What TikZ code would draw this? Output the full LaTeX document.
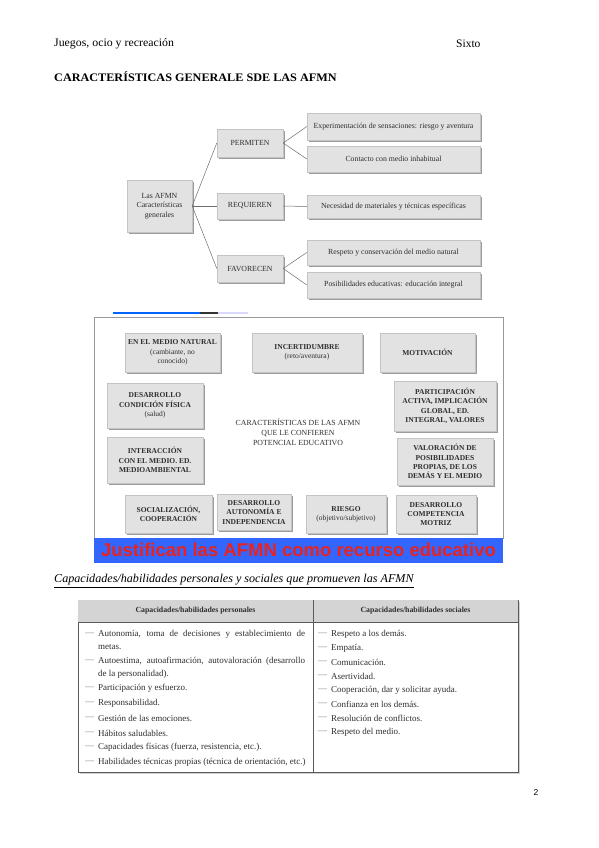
\documentclass[tikz,border=0pt]{standalone}
\usepackage{fontspec}
\setmainfont{Liberation Serif}
\newfontfamily\arialf{Liberation Sans}
\usetikzlibrary{shadows}
\definecolor{boxfill}{HTML}{E2E2E2}
\definecolor{boxline}{HTML}{C4C4C4}
\definecolor{shad}{HTML}{9C9C9C}
\definecolor{linec}{HTML}{6E6E6E}
\definecolor{banblue}{HTML}{3366FF}
\definecolor{banred}{HTML}{E8231E}
\definecolor{txt}{HTML}{2E2E2E}
\definecolor{hdrfill}{HTML}{D4D4D4}
\newcommand\jline[1]{\hbox to 207pt{\spaceskip=0.25em plus 1fil\relax #1}}
\begin{document}
\begin{tikzpicture}[x=1pt,y=-1pt,
  gbox/.style={draw=boxline, fill=boxfill, line width=0.4pt, inner sep=1pt, align=center, text=txt,
    drop shadow={shadow xshift=1.6pt, shadow yshift=-1.6pt, fill=shad, opacity=1}},
  onebox/.style={gbox, font=\fontsize{7.8}{9.5}\selectfont},
  twobox/.style={gbox, font=\bfseries\fontsize{7.5}{9.3}\selectfont},
  conn/.style={draw=linec, line width=0.5pt},
  item/.style={anchor=west, inner sep=0pt, text=txt, font=\fontsize{9}{10}\selectfont},
  dashi/.style={anchor=west, inner sep=0pt, text=gray, font=\fontsize{9}{10}\selectfont},
  hdr/.style={inner sep=0pt, text=txt, font=\bfseries\fontsize{7.8}{9}\selectfont},
  plain/.style={anchor=west, inner sep=0pt}
]
\fill[white] (0,0) rectangle (599,848);
\useasboundingbox (0,0) rectangle (599,848);

% header
\node[plain, font=\fontsize{11.5}{13}\selectfont] (h1) at (54,44) {\scalebox{1.03}[1]{Juegos, ocio y recreación}};
\node[plain, font=\fontsize{11.5}{13}\selectfont] (h2) at (456,44) {Sixto};
\node[plain, font=\bfseries\fontsize{11.5}{13}\selectfont] (title) at (54,77) {\scalebox{1.06}[1]{CARACTERÍSTICAS GENERALE SDE LAS AFMN}};

% diagram 1
\node[onebox, minimum width=65pt, minimum height=52pt] (las) at (159.5,206) {Las AFMN\\Características\\generales};
\node[onebox, minimum width=66pt, minimum height=28pt] (perm) at (250,143) {PERMITEN};
\node[onebox, minimum width=66pt, minimum height=26pt] (req) at (250,206) {REQUIEREN};
\node[onebox, minimum width=66pt, minimum height=27pt] (fav) at (250,268.5) {FAVORECEN};
\node[onebox, minimum width=173pt, minimum height=27pt] (e1) at (393.5,126.5) {Experimentación de sensaciones: riesgo y aventura};
\node[onebox, minimum width=173pt, minimum height=26pt] (e2) at (393.5,159) {Contacto con medio inhabitual};
\node[onebox, minimum width=173pt, minimum height=23pt] (e3) at (393.5,206.5) {Necesidad de materiales y técnicas específicas};
\node[onebox, minimum width=173pt, minimum height=25pt] (e4) at (393.5,252.5) {Respeto y conservación del medio natural};
\node[onebox, minimum width=173pt, minimum height=26pt] (e5) at (393.5,285) {Posibilidades educativas: educación integral};
\draw[conn] (las.east) -- (perm.west);
\draw[conn] (las.east) -- (req.west);
\draw[conn] (las.east) -- (fav.west);
\draw[conn] (perm.east) -- (e1.west);
\draw[conn] (perm.east) -- (e2.west);
\draw[conn] (req.east) -- (e3.west);
\draw[conn] (fav.east) -- (e4.west);
\draw[conn] (fav.east) -- (e5.west);

% remnant line
\draw[line width=1.2pt, color=blue!60!cyan] (113,313) -- (200,313);
\draw[line width=1.2pt, color=black!80] (200,313) -- (218,313);
\draw[line width=1.2pt, color=blue!15] (218,313) -- (248,313);

% diagram 2 frame
\draw[draw=gray!80, line width=0.8pt, fill=white] (94,317) rectangle (503,538);
\node[twobox, minimum width=95pt, minimum height=39pt] (n1) at (172.5,352.5) {EN EL MEDIO NATURAL\\{\mdseries (cambiante, no}\\{\mdseries conocido)}};
\node[twobox, minimum width=110pt, minimum height=39pt] (n2) at (307,352.5) {INCERTIDUMBRE\\{\mdseries (reto/aventura)}};
\node[twobox, minimum width=95pt, minimum height=39pt] (n3) at (427.5,352.5) {MOTIVACIÓN};
\node[twobox, minimum width=96pt, minimum height=45pt] (n4) at (155,405.5) {DESARROLLO\\CONDICIÓN FÍSICA\\{\mdseries (salud)}};
\node[twobox, minimum width=102pt, minimum height=50pt] (n5) at (445,406) {PARTICIPACIÓN\\ACTIVA, IMPLICACIÓN\\GLOBAL, ED.\\INTEGRAL, VALORES};
\node[twobox, minimum width=96pt, minimum height=46pt] (n6) at (155,460) {INTERACCIÓN\\CON EL MEDIO. ED.\\MEDIOAMBIENTAL};
\node[twobox, minimum width=96pt, minimum height=47pt] (n7) at (445,461.5) {VALORACIÓN DE\\POSIBILIDADES\\PROPIAS, DE LOS\\DEMÁS Y EL MEDIO};
\node[twobox, minimum width=87pt, minimum height=38pt] (n8) at (168.5,514) {SOCIALIZACIÓN,\\COOPERACIÓN};
\node[twobox, minimum width=74pt, minimum height=36pt] (n9) at (254,512.5) {DESARROLLO\\AUTONOMÍA E\\INDEPENDENCIA};
\node[twobox, minimum width=80pt, minimum height=38pt] (n10) at (346,514) {RIESGO\\{\mdseries (objetivo/subjetivo)}};
\node[twobox, minimum width=80pt, minimum height=38pt] (n11) at (436,514) {DESARROLLO\\COMPETENCIA\\MOTRIZ};
\node[align=center, text=txt, font=\fontsize{7.8}{9.8}\selectfont, inner sep=0pt] (ctr) at (298,432) {CARACTERÍSTICAS DE LAS AFMN\\QUE LE CONFIEREN\\POTENCIAL EDUCATIVO};

% banner
\node[fill=banblue, minimum width=409pt, minimum height=25pt, inner sep=0pt, text=banred, font=\arialf\bfseries\fontsize{18.5}{20}\selectfont] (ban) at (298.5,550) {Justifican las AFMN como recurso educativo};

% section title
\node[plain, font=\itshape\fontsize{12}{13}\selectfont] (sec) at (54,581) {\underline{\scalebox{1.01}[1]{Capacidades/habilidades personales y sociales que promueven las AFMN}}};

% table
\fill[gray!35] (80,602) rectangle (520,774);
\draw[draw=gray!70!black, line width=0.8pt, fill=white] (78,600) rectangle (518,772);
\fill[hdrfill] (78.4,600.4) rectangle (517.6,622);
\draw[draw=gray!70!black, line width=0.6pt] (78,622) -- (518,622);
\draw[draw=gray!70!black, line width=0.6pt] (313,600) -- (313,772);
\node[hdr] (th1) at (195.5,611) {Capacidades/habilidades personales};
\node[hdr] (th2) at (415.5,611) {Capacidades/habilidades sociales};

\foreach \y in {634,661,688,703,718,733,747,762} {\node[dashi] at (85,\y) {—};}
\node[item] (l1) at (98,634) {\jline{Autonomía, toma de decisiones y establecimiento de}};
\node[item] (l2) at (98,647.5) {metas.};
\node[item] (l3) at (98,661) {\jline{Autoestima, autoafirmación, autovaloración (desarrollo}};
\node[item] (l4) at (98,674.5) {de la personalidad).};
\node[item] (l5) at (98,688) {Participación y esfuerzo.};
\node[item] (l6) at (98,703) {Responsabilidad.};
\node[item] (l7) at (98,718) {Gestión de las emociones.};
\node[item] (l8) at (98,733) {Hábitos saludables.};
\node[item] (l9) at (98,747) {Capacidades físicas (fuerza, resistencia, etc.).};
\node[item] (l10) at (98,762) {Habilidades técnicas propias (técnica de orientación, etc.)};

\foreach \y in {634,648,662,676,690,704,718,732.5} {\node[dashi] at (318,\y) {—};}
\node[item] (r1) at (331,634) {Respeto a los demás.};
\node[item] (r2) at (331,648) {Empatía.};
\node[item] (r3) at (331,662) {Comunicación.};
\node[item] (r4) at (331,676) {Asertividad.};
\node[item] (r5) at (331,690) {Cooperación, dar y solicitar ayuda.};
\node[item] (r6) at (331,704) {Confianza en los demás.};
\node[item] (r7) at (331,718) {Resolución de conflictos.};
\node[item] (r8) at (331,732.5) {Respeto del medio.};

% page number
\node[inner sep=0pt, font=\arialf\fontsize{8.5}{10}\selectfont] (pg) at (536,793) {2};
\end{tikzpicture}
\end{document}
